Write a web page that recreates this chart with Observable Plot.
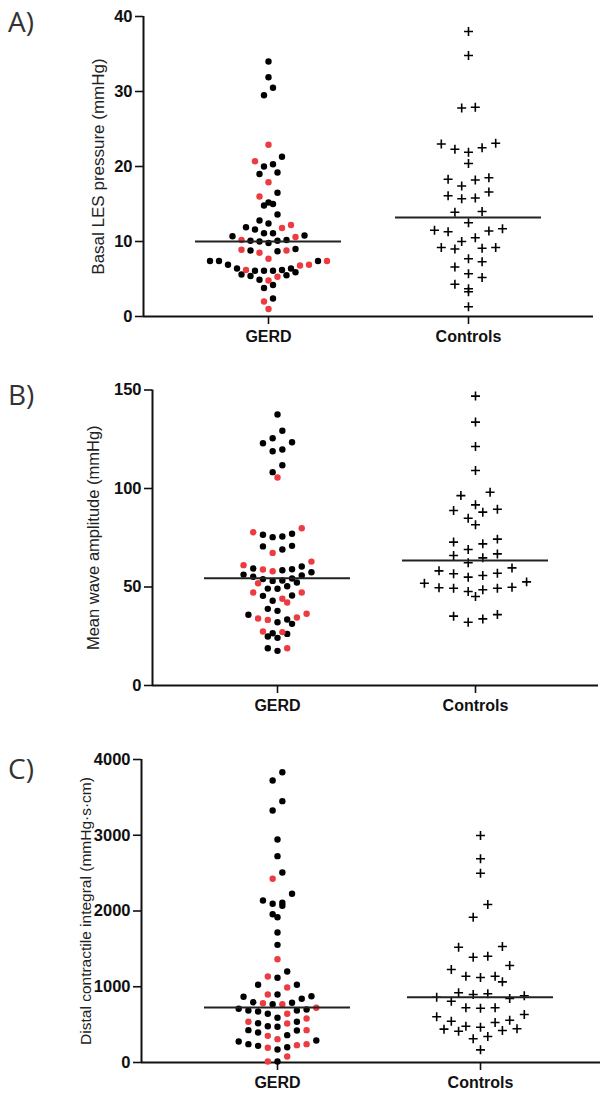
<!DOCTYPE html>
<html><head><meta charset="utf-8">
<script src="https://cdn.jsdelivr.net/npm/d3@7"></script>
<script src="https://cdn.jsdelivr.net/npm/@observablehq/plot@0.6"></script>
<style>
body{margin:0;background:#fff;}
#wrap{position:relative;width:600px;height:1097px;overflow:hidden;}
.panel{position:absolute;left:0;width:600px;}
.tag{position:absolute;left:8px;font-family:"Open Sans";font-size:28px;line-height:28px;color:#333;}
</style></head><body><div id="wrap"></div>
<script>
const groups = ["GERD", "Controls"];
const RED = "#ec3b41";

// A) Basal LES pressure (mmHg)
const lesGerdBlack = [34.0,31.9,30.5,29.5,21.3,20.3,20.0,19.0,19.2,16.5,15.0,14.8,15.2,13.6,12.4,12.8,11.6,11.9,10.8,11.1,11.1,10.7,10.2,10.1,10.1,9.8,10.0,9.0,8.8,8.7,7.4,7.4,6.9,7.4,6.4,6.2,6.1,6.1,5.6,5.4,5.5,4.9,5.9,6.1,6.4,3.8,4.2,2.4];
const lesGerdRed = [22.9,20.7,17.9,16.0,12.2,11.8,10.6,10.2,8.5,8.8,8.9,6.8,6.9,7.4,7.7,5.3,4.8,6.2,2.0,1.0];
const lesControls = [38.0,34.8,27.8,27.9,23.0,22.3,22.5,21.9,23.1,20.4,17.4,18.3,18.2,18.5,16.1,15.7,15.8,16.6,13.9,14.0,12.5,11.5,11.3,11.4,11.7,10.0,10.5,9.2,9.0,9.1,9.2,7.3,7.7,6.6,5.2,5.7,3.7,3.3,4.3,1.3];
const lesMedians = [10.0, 13.2];
const lesTicks = [0,10,20,30,40];

// B) Mean wave amplitude (mmHg)
const ampGerdBlack = [137.6,129.3,125.5,123.0,123.5,118.9,119.8,111.8,108.3,77.0,75.6,75.3,76.5,70.6,69.0,70.9,60.4,59.4,59.0,58.5,57.5,54.0,53.1,55.8,54.3,55.2,56.3,52.3,53.3,45.7,49.2,49.1,50.4,45.5,43.0,38.9,37.9,35.9,33.5,31.3,32.1,26.2,24.9,24.2,26.5,17.6,18.9];
const ampGerdRed = [105.6,79.8,77.8,67.3,62.9,61.1,58.0,58.9,51.9,47.2,47.2,44.0,42.1,34.0,36.4,33.3,34.5,27.4,27.1,18.9];
const ampControls = [146.9,133.7,121.3,109.1,96.4,98.1,88.8,89.5,91.7,88.0,84.9,81.6,74.3,71.9,72.8,69.0,66.8,64.8,62.3,66.0,58.2,56.7,55.0,55.8,57.0,59.7,51.9,49.4,49.6,47.7,45.2,48.6,49.4,49.9,52.6,35.2,32.1,33.8,36.0];
const ampMedians = [54.5, 63.5];
const ampTicks = [0,50,100,150];

// C) Distal contractile integral (mmHg·s·cm)
const dciGerdBlack = [3832,3723,3450,3327,2944,2724,2508,2227,2108,2069,2095,2139,1958,1918,1716,1553,1201,1118,1026,1026,867,796,788,841,875,898,770,709,686,673,643,686,700,590,519,479,471,537,427,422,361,396,277,242,220,172,202,290,13];
const dciGerdRed = [2425,1364,1135,990,898,783,770,643,722,537,515,581,308,352,427,194,229,242,79,13];
const dciControls = [2997,2689,2499,2086,1918,1522,1531,1390,1403,1228,1280,1139,1065,1122,1139,920,898,809,862,845,881,907,722,634,717,722,603,545,479,445,343,422,413,313,440,466,528,558,167];
const dciMedians = [726, 862];
const dciTicks = [0,1000,2000,3000,4000];

// Prism-like scatter layout: rows of nearby values spread symmetrically
function spread(values, pxPerY, slot, rowH) {
  const order = d3.range(values.length).sort((a, b) => values[b] - values[a]);
  const off = new Array(values.length).fill(0);
  let i = 0;
  while (i < order.length) {
    const top = values[order[i]];
    const row = [];
    while (i < order.length && (top - values[order[i]]) * pxPerY < rowH) row.push(order[i++]);
    row.sort((a, b) => values[a] - values[b]);
    const n = row.length;
    const slots = d3.range(n).map(j => (j - (n - 1) / 2) * slot)
      .sort((a, b) => Math.abs(a) - Math.abs(b) || a - b);
    row.forEach((k, j) => off[k] = slots[j]);
  }
  return off;
}

function panel(cfg) {
  const W = 600;
  const pxPerY = (cfg.height - cfg.mt - cfg.mb) / cfg.yMax;
  const x0 = (cfg.ml - cfg.cx) / cfg.step, x1 = (W - cfg.mr - cfg.cx) / cfg.step;
  const gerd = cfg.gerdBlack.map(v => ({v, c: "#000"})).concat(cfg.gerdRed.map(v => ({v, c: RED})));
  const go = spread(gerd.map(d => d.v), pxPerY, cfg.dotSlot, 10);
  gerd.forEach((d, i) => d.x = 0 + go[i] / cfg.step);
  const ctrl = cfg.controls.map(v => ({v}));
  const co = spread(cfg.controls, pxPerY, cfg.plusSlot, 13);
  ctrl.forEach((d, i) => d.x = 1 + co[i] / cfg.step);
  const meds = cfg.medians.map((m, i) => ({g: i, m}));
  const half = 73 / cfg.step;
  return Plot.plot({
    width: W, height: cfg.height,
    marginLeft: cfg.ml, marginRight: cfg.mr, marginTop: cfg.mt, marginBottom: cfg.mb,
    style: {fontFamily: "'Liberation Sans', Arial, sans-serif", color: "#111", background: "#fff"},
    x: {domain: [x0, x1], axis: null},
    y: {domain: [0, cfg.yMax], axis: null},
    marks: [
      Plot.axisY({ticks: cfg.yTicks, tickFormat: d => String(d), tickSize: 8, tickPadding: 3, fontSize: 16.5, fontWeight: "bold", label: null, strokeWidth: 1.6}),
      Plot.axisX({ticks: [0, 1], tickFormat: i => groups[i], tickSize: 8, tickPadding: 6, fontSize: 16, fontWeight: "bold", label: null, strokeWidth: 1.6}),
      Plot.ruleX([x0], {stroke: "#111", strokeWidth: 2}),
      Plot.ruleY([0], {stroke: "#111", strokeWidth: 2}),
      Plot.text([cfg.label], {frameAnchor: "left", textAnchor: "middle", rotate: -90, dx: cfg.labelDx, fontSize: cfg.labelSize, fill: "#222"}),
      Plot.dot(gerd, {x: "x", y: "v", r: 3.2, fill: "c", stroke: null}),
      Plot.dot(ctrl, {x: "x", y: "v", r: 3, symbol: "plus", stroke: "#000", strokeWidth: 1.6}),
      Plot.ruleY(meds, {x1: d => d.g - half, x2: d => d.g + half, y: "m", stroke: "#222", strokeWidth: 2})
    ]
  });
}

const panels = [
  {tag: "A)", top: 0, tagTop: 7, height: 360, mt: 16, mb: 44, ml: 143, mr: 7, cx: 268, step: 200,
   yMax: 40, yTicks: lesTicks, label: "Basal LES pressure (mmHg)", labelDx: -45, labelSize: 17,
   gerdBlack: lesGerdBlack, gerdRed: lesGerdRed, controls: lesControls, medians: lesMedians, dotSlot: 9, plusSlot: 13.6},
  {tag: "B)", top: 360, tagTop: 380, height: 365, mt: 29.5, mb: 40, ml: 152, mr: 2, cx: 277, step: 198,
   yMax: 150, yTicks: ampTicks, label: "Mean wave amplitude (mmHg)", labelDx: -59, labelSize: 16.5,
   gerdBlack: ampGerdBlack, gerdRed: ampGerdRed, controls: ampControls, medians: ampMedians, dotSlot: 9.7, plusSlot: 14.6},
  {tag: "C)", top: 725, tagTop: 754, height: 372, mt: 34, mb: 35, ml: 141, mr: 0, cx: 277, step: 203,
   yMax: 4000, yTicks: dciTicks, label: "Distal contractile integral (mmHg·s·cm)", labelDx: -55, labelSize: 15.5,
   gerdBlack: dciGerdBlack, gerdRed: dciGerdRed, controls: dciControls, medians: dciMedians, dotSlot: 9.7, plusSlot: 14.6}
];

const wrap = document.getElementById("wrap");
for (const p of panels) {
  const div = document.createElement("div");
  div.className = "panel";
  div.style.top = p.top + "px";
  div.appendChild(panel(p));
  wrap.appendChild(div);
  const t = document.createElement("div");
  t.className = "tag";
  t.style.top = p.tagTop + "px";
  t.textContent = p.tag;
  wrap.appendChild(t);
}
</script></body></html>
